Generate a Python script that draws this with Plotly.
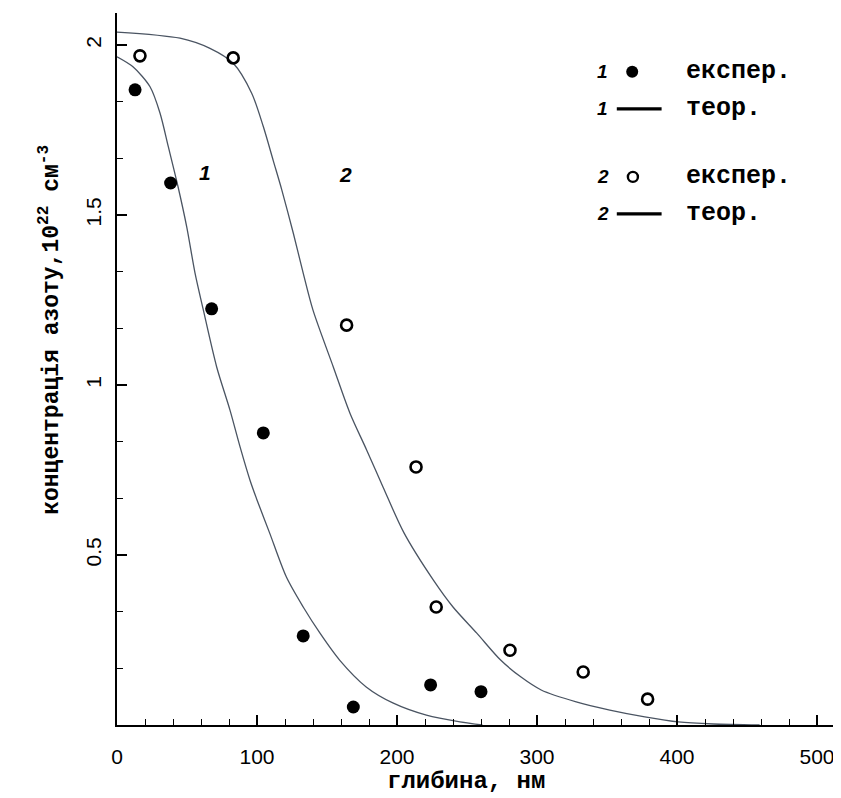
import plotly.graph_objects as go

# Experimental data, series 1 (filled circles)
exp1_x = [12.9, 38.3, 67.6, 104.5, 133, 168.8, 224, 260]
exp1_y = [1.868, 1.594, 1.224, 0.859, 0.262, 0.053, 0.118, 0.098]

# Experimental data, series 2 (open circles)
exp2_x = [16.4, 83, 164, 213.6, 228, 280.7, 333, 379]
exp2_y = [1.968, 1.962, 1.176, 0.759, 0.347, 0.22, 0.156, 0.076]

# Theoretical curve 1
theo1_x = [0, 11.6, 23.6, 30.7, 36.7, 43.6, 49.8, 55.7, 61.7, 71.2, 80.7, 87.9, 95, 100,
           109, 121, 133, 145, 159, 178, 197, 221, 245, 261]
theo1_y = [1.965, 1.935, 1.877, 1.80, 1.70, 1.583, 1.465, 1.33, 1.22, 1.053, 0.926, 0.818,
           0.72, 0.662, 0.565, 0.435, 0.347, 0.27, 0.191, 0.112, 0.065, 0.029, 0.009, 0.0]

# Theoretical curve 2
theo2_x = [0, 45, 66.4, 83, 96.2, 104.5, 111.6, 117.7, 125.9, 133, 140, 154.5, 166.4, 178.3,
           190, 205, 226, 240, 257, 274, 288.6, 303, 328, 352, 377, 401, 426, 459]
theo2_y = [2.038, 2.02, 1.99, 1.946, 1.858, 1.76, 1.66, 1.574, 1.447, 1.329, 1.22, 1.053,
           0.917, 0.809, 0.70, 0.565, 0.426, 0.347, 0.27, 0.191, 0.141, 0.103, 0.068, 0.044,
           0.024, 0.009, 0.003, 0.0]

x_ticks = [0, 100, 200, 300, 400, 500]
y_ticks = [0.5, 1, 1.5, 2]
y_tick_text = ["0.5", "1", "1.5", "2"]

curve_labels = ["1", "2"]
curve_label_x = [63, 163]
curve_label_y = [1.625, 1.618]

legend_rows_y = [1.921, 1.812, 1.612, 1.503]
legend_nums = ["1", "1", "2", "2"]
legend_texts = ["експер.", "теор.", "експер.", "теор."]

LINE_COLOR = "#4a5462"
MONO = "Liberation Mono, Courier New, monospace"
SANS = "Liberation Sans, Arial, sans-serif"

fig = go.Figure()

fig.add_trace(go.Scatter(x=theo1_x, y=theo1_y, mode="lines",
                         line=dict(color=LINE_COLOR, width=1.3, shape="spline", smoothing=0.8),
                         hoverinfo="skip"))
fig.add_trace(go.Scatter(x=theo2_x, y=theo2_y, mode="lines",
                         line=dict(color=LINE_COLOR, width=1.3, shape="spline", smoothing=0.8),
                         hoverinfo="skip"))
fig.add_trace(go.Scatter(x=exp1_x, y=exp1_y, mode="markers",
                         marker=dict(symbol="circle", size=13, color="black",
                                     line=dict(width=0))))
fig.add_trace(go.Scatter(x=exp2_x, y=exp2_y, mode="markers",
                         marker=dict(symbol="circle-open", size=11, color="black",
                                     line=dict(width=2.6))))

# Legend markers (drawn in data coordinates)
fig.add_trace(go.Scatter(x=[368], y=[legend_rows_y[0]], mode="markers",
                         marker=dict(symbol="circle", size=12, color="black")))
fig.add_trace(go.Scatter(x=[368.5], y=[legend_rows_y[2]], mode="markers",
                         marker=dict(symbol="circle-open", size=10, color="black",
                                     line=dict(width=2.4))))
for yy in [legend_rows_y[1], legend_rows_y[3]]:
    fig.add_trace(go.Scatter(x=[357, 389], y=[yy, yy], mode="lines",
                             line=dict(color="black", width=3.2)))

annotations = []
for t, xx, yy in zip(curve_labels, curve_label_x, curve_label_y):
    annotations.append(dict(x=xx, y=yy, xref="x", yref="y", text="<b><i>" + t + "</i></b>",
                            showarrow=False, font=dict(family=SANS, size=21, color="black")))
for num, txt, yy in zip(legend_nums, legend_texts, legend_rows_y):
    annotations.append(dict(x=347, y=yy, xref="x", yref="y", text="<b><i>" + num + "</i></b>",
                            showarrow=False, font=dict(family=SANS, size=19, color="black")))
    annotations.append(dict(x=405, y=yy, xref="x", yref="y", text="<b>" + txt + "</b>",
                            xanchor="left", showarrow=False,
                            font=dict(family=MONO, size=25, color="black")))

annotations.append(dict(x=0.484, y=-0.080, xref="paper", yref="paper",
                        xanchor="center", yanchor="middle",
                        text="<b>глибина, нм</b>", showarrow=False,
                        font=dict(family=MONO, size=24, color="black")))
annotations.append(dict(x=-0.093, y=0.555, xref="paper", yref="paper", textangle=-90,
                        xanchor="center", yanchor="middle",
                        text="<b>концентрація азоту,10<sup>22</sup> см<sup>-3</sup></b>",
                        showarrow=False, font=dict(family=MONO, size=23, color="black")))

# The page places the figure 8px in from the top-left corner, so the figure is
# sized 833x790 to fill the 841x798 window.
fig.update_layout(
    width=833, height=790,
    margin=dict(l=109, r=3, t=5, b=73, autoexpand=False),
    paper_bgcolor="white", plot_bgcolor="white",
    showlegend=False,
    annotations=annotations,
    xaxis=dict(range=[0, 515], tickvals=x_ticks, ticks="inside", ticklen=10, tickwidth=1.5,
               tickcolor="black", showline=True, linecolor="black", linewidth=2,
               showgrid=False, zeroline=False, automargin=False, ticklabelstandoff=12,
               tickfont=dict(family=SANS, size=21, color="black"),
               minor=dict(ticks="inside", dtick=20, tick0=0, ticklen=6, tickwidth=1,
                          tickcolor="black", showgrid=False)),
    yaxis=dict(range=[0, 2.094], tickvals=y_ticks, ticktext=y_tick_text, tickangle=-90,
               ticks="inside", ticklen=10, tickwidth=1.5, tickcolor="black",
               showline=True, linecolor="black", linewidth=2,
               showgrid=False, zeroline=False, automargin=False, ticklabelstandoff=6,
               tickfont=dict(family=SANS, size=21, color="black"),
               minor=dict(ticks="inside", dtick=0.5 / 3, tick0=0, ticklen=6, tickwidth=1,
                          tickcolor="black", showgrid=False)),
)

fig.write_html("out.html")
